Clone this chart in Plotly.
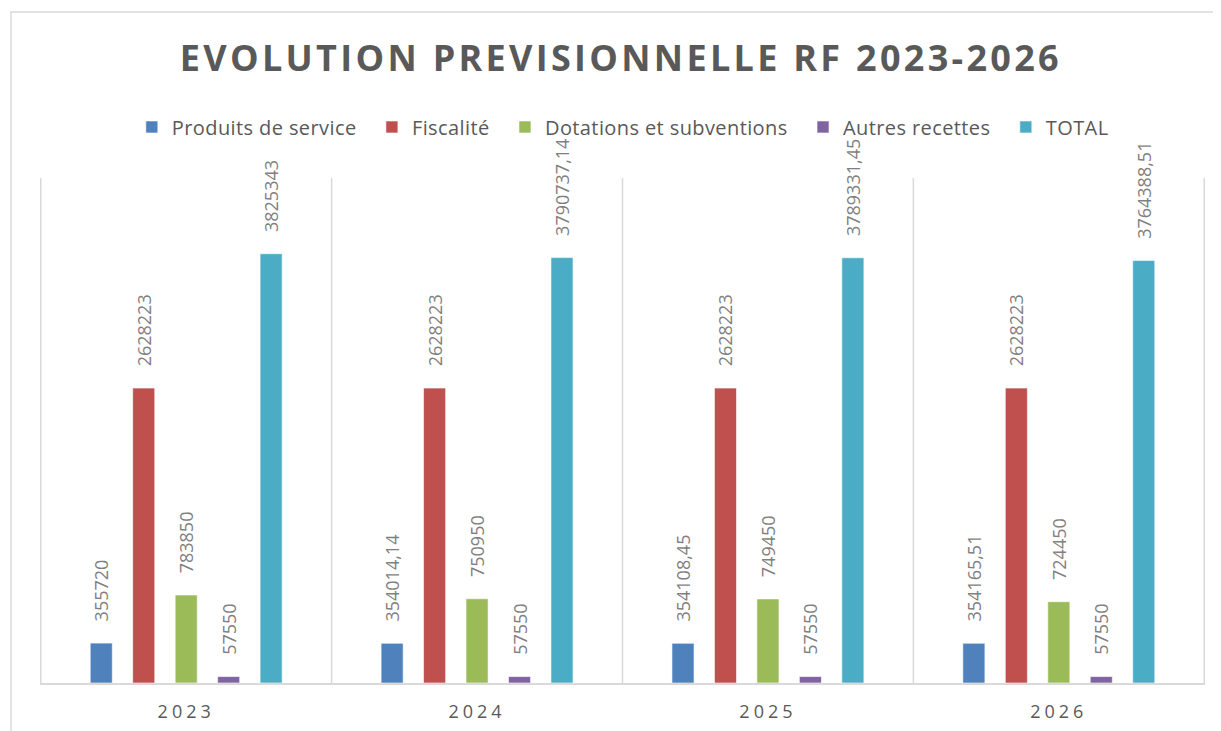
import plotly.graph_objects as go

years = ["2023", "2024", "2025", "2026"]
produits = [355720, 354014.14, 354108.45, 354165.51]
fiscalite = [2628223, 2628223, 2628223, 2628223]
dotations = [783850, 750950, 749450, 724450]
autres = [57550, 57550, 57550, 57550]
total = [3825343, 3790737.14, 3789331.45, 3764388.51]

series = [
    ("Produits de service", produits, "#4F81BD"),
    ("Fiscalité", fiscalite, "#C0504D"),
    ("Dotations et subventions", dotations, "#9BBB59"),
    ("Autres recettes", autres, "#8064A2"),
    ("TOTAL", total, "#4BACC6"),
]

# hauteur du cadre (zone de traçage Excel) et geometrie en pixels
Y_MAX = 4500000
FRAME_PX = 505
PLOT_PX = 575


def fr(v):
    # format a la francaise : virgule decimale
    if float(v).is_integer():
        return str(int(v))
    return f"{v:.2f}".replace(".", ",")


fig = go.Figure()
for name, vals, color in series:
    fig.add_trace(go.Bar(
        x=years, y=vals,
        name=f"<span style='letter-spacing:0.4px'>{name}</span>\u00a0\u00a0",
        marker=dict(color=color, line=dict(color="rgba(255,255,255,0.6)", width=1)),
        text=["\u00a0" * 4 + fr(v) for v in vals],
        textposition="outside", textangle=-90, constraintext="none",
        cliponaxis=False,
        textfont=dict(family="Open Sans", size=18, color="#7f7f7f"),
    ))

# lignes verticales entre les annees
grid = [dict(type="line", xref="x", yref="y", x0=i - 0.5, x1=i - 0.5,
             y0=0, y1=Y_MAX, line=dict(color="#d9d9d9", width=1.5), layer="below")
        for i in range(len(years) + 1)]

fig.update_layout(
    width=1221, height=731,
    paper_bgcolor="white", plot_bgcolor="white",
    margin=dict(l=32, r=24, t=675 - PLOT_PX, b=56),
    barmode="group", bargap=0.27, bargroupgap=0.48,
    title=dict(text="<b><span style='letter-spacing:3.3px'>EVOLUTION PREVISIONNELLE RF 2023-2026</span></b>",
               font=dict(family="Open Sans", size=36, color="#595959"),
               xref="container", x=0.502, xanchor="center",
               yref="container", y=0.9316, yanchor="middle"),
    legend=dict(orientation="h", xref="paper", yref="paper",
                x=0.505, xanchor="center", y=0.967, yanchor="middle",
                font=dict(family="Open Sans", size=20, color="#595959"),
                bgcolor="rgba(0,0,0,0)", itemwidth=30, tracegroupgap=0),
    xaxis=dict(showgrid=False, ticks="", showline=True,
               linecolor="#d9d9d9", linewidth=1.5, ticklabelstandoff=12,
               tickvals=years,
               ticktext=[f"<span style='letter-spacing:4px'>{y}</span>" for y in years],
               tickfont=dict(family="Open Sans", size=18, color="#595959")),
    yaxis=dict(range=[0, Y_MAX * PLOT_PX / FRAME_PX], showgrid=False,
               showticklabels=False, zeroline=False, showline=False),
    shapes=grid + [dict(type="rect", xref="paper", yref="paper",
                        x0=-0.0249, x1=1.05, y0=-0.3, y1=(675 - 4) / PLOT_PX,
                        line=dict(color="#d9d9d9", width=1.5), layer="below")],
)

fig.write_html("out.html")
